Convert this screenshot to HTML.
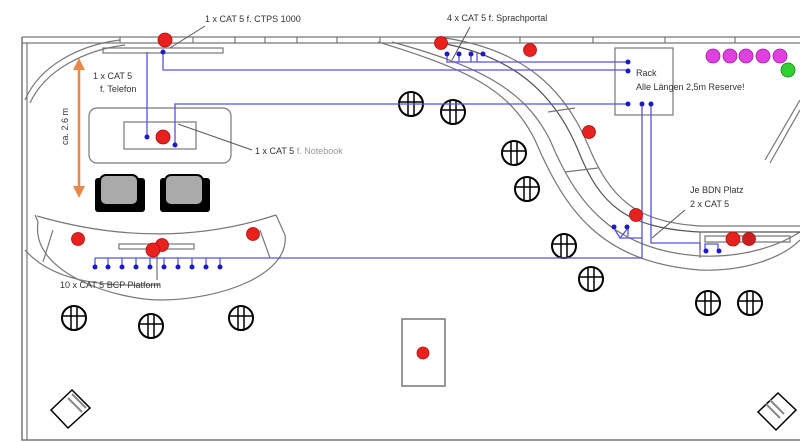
<!DOCTYPE html>
<html><head><meta charset="utf-8"><style>
html,body{margin:0;padding:0;background:#fff}
svg{display:block}
text{font-family:"Liberation Sans",sans-serif;font-size:9px;fill:#333}
</style></head><body>
<svg width="800" height="443" viewBox="0 0 800 443" xmlns="http://www.w3.org/2000/svg">
<defs><g id="st"><circle r="12" fill="#fff" stroke="#000" stroke-width="2"/><path d="M-3 -11V11 M3 -11V11 M-11 -2H11" stroke="#000" stroke-width="1.5"/></g></defs>
<g fill="none" stroke="#777" stroke-width="1.2">
<path d="M22 37 H800 M22 43 H800"/>
<path d="M22 37 V440 H800" stroke-width="1.5"/>
<path d="M27 43 V440"/>
<path d="M120 37V43 M193 37V43 M235 37V43 M265 37V43 M297 37V43 M337 37V43 M380 37V43 M520 37V43 M593 37V43 M665 37V43 M735 37V43"/>
<path d="M25 100 C40 65 80 45 120 40 M30 103 C45 70 85 50 125 45"/>
<rect x="103" y="48" width="120" height="5"/>
<path d="M378 42 C470 70 510 90 535 140 C565 210 600 262 700 270 C750 272 785 255 800 240"/>
<path d="M392 42 C480 66 525 90 550 140 C575 200 610 250 700 256 C745 258 780 245 800 232"/>
<path d="M435 42 C515 55 555 95 578 150 C600 205 625 228 700 232 H800" stroke="#555"/>
<path d="M445 38 C525 50 565 90 588 145 C610 198 635 222 700 226 H800"/>
<path d="M548 112 L575 108 M565 172 L598 168"/>
<path d="M700 232 V258 M705 236 H790 V242 H705Z"/>
<path d="M765 160 L800 100 M770 163 L800 110"/>
<rect x="615" y="48" width="58" height="67"/>
<rect x="89" y="108" width="142" height="55" rx="8"/>
<rect x="124" y="122" width="72" height="27"/>
<path d="M37 216 C120 240 200 240 276 215 M35 215 L38 222 C30 275 120 300 160 300 C220 300 290 275 285 235 L276 215"/>
<path d="M25 250 C60 290 130 285 160 285"/>
<path d="M53 230 L43 262 M260 230 L270 258"/>
<rect x="119" y="244" width="75" height="5"/>
<rect x="402" y="319" width="43" height="67" stroke-width="1.5"/>
</g>
<g>
<rect x="95" y="178" width="50" height="34" rx="3" fill="#000"/>
<rect x="100" y="175" width="38" height="30" rx="6" fill="#aaa" stroke="#000" stroke-width="2"/>
<rect x="160" y="178" width="50" height="34" rx="3" fill="#000"/>
<rect x="165" y="175" width="38" height="30" rx="6" fill="#aaa" stroke="#000" stroke-width="2"/>
</g>
<g stroke="#e8884a" stroke-width="2.5" fill="#e8884a">
<path d="M79 64 V192"/><path d="M73 70 L79 58 L85 70Z M73 186 L79 198 L85 186Z" stroke="none"/>
</g>
<text transform="translate(68,145) rotate(-90)" font-size="10">ca. 2.6 m</text>
<use href="#st" x="74" y="318"/><use href="#st" x="151" y="326"/><use href="#st" x="241" y="318"/>
<use href="#st" x="411" y="104"/><use href="#st" x="453" y="112"/><use href="#st" x="514" y="153"/><use href="#st" x="527" y="189"/>
<use href="#st" x="564" y="246"/><use href="#st" x="591" y="279"/><use href="#st" x="708" y="303"/><use href="#st" x="750" y="303"/>
<g fill="#fff" stroke="#000" stroke-width="1.5">
<path d="M72 390 L90 408 L68 428 L51 410Z"/><path d="M68 398 L82 412 M72 394 L86 408" stroke="#888" stroke-width="2"/>
<path d="M778 393 L796 410 L776 430 L758 412Z"/><path d="M766 404 L780 418 M770 400 L784 414" stroke="#888" stroke-width="2"/>
</g>
<g stroke="#5555dd" stroke-width="1.3" fill="none">
<path d="M163 52 V70 H628"/>
<path d="M147 52 V137"/>
<path d="M175 145 V104 H628"/>
<path d="M447 53 V62 H628 M447 62 H477 V53 M459 62V53 M471 62V53"/>
<path d="M642 104 V258 H95"/>
<path d="M651 104 V243 H700 V250 M705 250 V244 H718 V250"/>
<path d="M95 258 V266 M108 258V266 M122 258V266 M136 258V266 M150 258V266 M164 258V266 M178 258V266 M192 258V266 M206 258V266 M220 258V266"/>
<path d="M615 230 L620 238 H642 M620 238 L628 228 M628 228 V236"/>
</g>
<g fill="#1a1acc">
<circle cx="163" cy="52" r="2.5"/><circle cx="147" cy="137" r="2.5"/><circle cx="175" cy="145" r="2.5"/>
<circle cx="447" cy="54" r="2.5"/><circle cx="459" cy="54" r="2.5"/><circle cx="471" cy="54" r="2.5"/><circle cx="483" cy="54" r="2.5"/>
<circle cx="628" cy="62" r="2.5"/><circle cx="628" cy="71" r="2.5"/><circle cx="628" cy="104" r="2.5"/><circle cx="642" cy="104" r="2.5"/><circle cx="651" cy="104" r="2.5"/>
<circle cx="614" cy="227" r="2.5"/><circle cx="627" cy="227" r="2.5"/><circle cx="706" cy="251" r="2.5"/><circle cx="719" cy="251" r="2.5"/>
<circle cx="95" cy="267" r="2.5"/><circle cx="108" cy="267" r="2.5"/><circle cx="122" cy="267" r="2.5"/><circle cx="136" cy="267" r="2.5"/><circle cx="150" cy="267" r="2.5"/><circle cx="164" cy="267" r="2.5"/><circle cx="178" cy="267" r="2.5"/><circle cx="192" cy="267" r="2.5"/><circle cx="206" cy="267" r="2.5"/><circle cx="220" cy="267" r="2.5"/>
</g>
<g stroke="#555" stroke-width="1" fill="none">
<path d="M205 26 L170 48"/><path d="M470 27 L452 60"/><path d="M178 124 L252 150"/>
<path d="M685 210 L652 238"/><path d="M157 255 V280"/>
</g>
<g fill="#e8201e" stroke="#b01010" stroke-width="0.8">
<circle cx="165" cy="40" r="7"/><circle cx="441" cy="43" r="6.5"/><circle cx="530" cy="50" r="6.5"/><circle cx="589" cy="132" r="6.5"/>
<circle cx="636" cy="215" r="6.5"/><circle cx="733" cy="239" r="7"/><circle cx="749" cy="239" r="6.5" fill="#c82020"/>
<circle cx="78" cy="239" r="6.5"/><circle cx="162" cy="245" r="6.5"/><circle cx="153" cy="250" r="7"/><circle cx="253" cy="234" r="6.5"/>
<circle cx="163" cy="137" r="7"/><circle cx="423" cy="353" r="6"/>
</g>
<g fill="#e040e0" stroke="#a020a0" stroke-width="0.8">
<circle cx="713" cy="56" r="7"/><circle cx="730" cy="56" r="7"/><circle cx="746" cy="56" r="7"/><circle cx="763" cy="56" r="7"/><circle cx="780" cy="56" r="7"/>
</g>
<circle cx="788" cy="70" r="7" fill="#30d030" stroke="#208020" stroke-width="0.8"/>
<text x="205" y="22">1 x CAT 5 f. CTPS 1000</text>
<text x="447" y="21">4 x CAT 5 f. Sprachportal</text>
<text x="93" y="79">1 x CAT 5</text>
<text x="100" y="92">f. Telefon</text>
<text x="255" y="154">1 x CAT 5 <tspan fill="#999">f. Notebook</tspan></text>
<text x="636" y="76">Rack</text>
<text x="636" y="90">Alle Längen 2,5m Reserve!</text>
<text x="690" y="193">Je BDN Platz</text>
<text x="690" y="207">2 x CAT 5</text>
<text x="60" y="288">10 x CAT 5 BCP Platform</text>
</svg>
</body></html>
